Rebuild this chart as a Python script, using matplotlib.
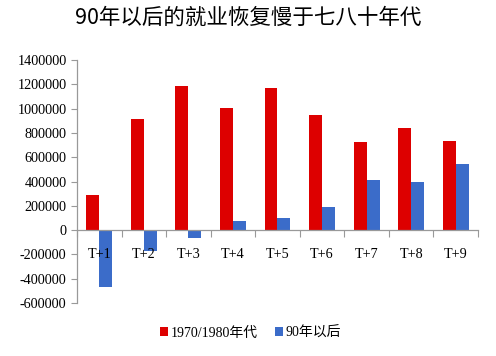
import matplotlib
matplotlib.use("Agg")
import matplotlib.pyplot as plt
import numpy as np

categories = ["T+1", "T+2", "T+3", "T+4", "T+5", "T+6", "T+7", "T+8", "T+9"]
series_7080 = [291000, 911000, 1189000, 1009000, 1172000, 944000, 724000, 838000, 732000]
series_90 = [-472000, -174000, -62000, 77000, 101000, 188000, 416000, 400000, 541000]
yticks = [-600000, -400000, -200000, 0, 200000, 400000, 600000, 800000,
          1000000, 1200000, 1400000]
title = "90年以后的就业恢复慢于七八十年代"
legend_labels = ["1970/1980年代", "90年以后"]

plt.rcParams['font.family'] = ['Liberation Serif', 'Noto Sans CJK SC']

fig = plt.figure(figsize=(4.96, 3.56), dpi=100)
ax = fig.add_axes([77/496, 1-303/356, (478-77)/496, (303-60)/356])

x = np.arange(len(categories))
w = 0.29
ax.bar(x - w/2, series_7080, width=w, color="#DD0000", label=legend_labels[0])
ax.bar(x + w/2, series_90, width=w, color="#3B6CC9", label=legend_labels[1])

ax.set_xlim(-0.5, len(categories) - 0.5)
ax.set_ylim(-600000, 1400000)
ax.set_yticks(yticks)
ax.set_yticklabels([str(v) for v in yticks], fontsize=10.2)

ax.spines['top'].set_visible(False)
ax.spines['right'].set_visible(False)
ax.spines['bottom'].set_position(('data', 0))
for s in ['left', 'bottom']:
    ax.spines[s].set_color('#999999')
    ax.spines[s].set_linewidth(0.9)

ax.set_xticks(np.arange(len(categories) + 1) - 0.5)
ax.set_xticklabels([])
ax.set_xticks(x, minor=True)
ax.set_xticklabels(categories, minor=True, fontsize=10.2)
ax.tick_params(axis='x', which='major', direction='out', length=5, color='#999999')
ax.tick_params(axis='x', which='minor', length=0, pad=13)
ax.tick_params(axis='y', direction='out', length=4, color='#999999')

fig.text(0.5, 1-18/356, title, ha='center', va='center', fontsize=15.5,
         family=['Noto Sans CJK SC'])

ax.legend(loc='center', bbox_to_anchor=(0.505, 1-333/356), bbox_transform=fig.transFigure,
          ncol=2, frameon=False, fontsize=10, handlelength=0.6, handleheight=0.6,
          handletextpad=0.2, columnspacing=1.2)

fig.savefig("out.png", dpi=100)
